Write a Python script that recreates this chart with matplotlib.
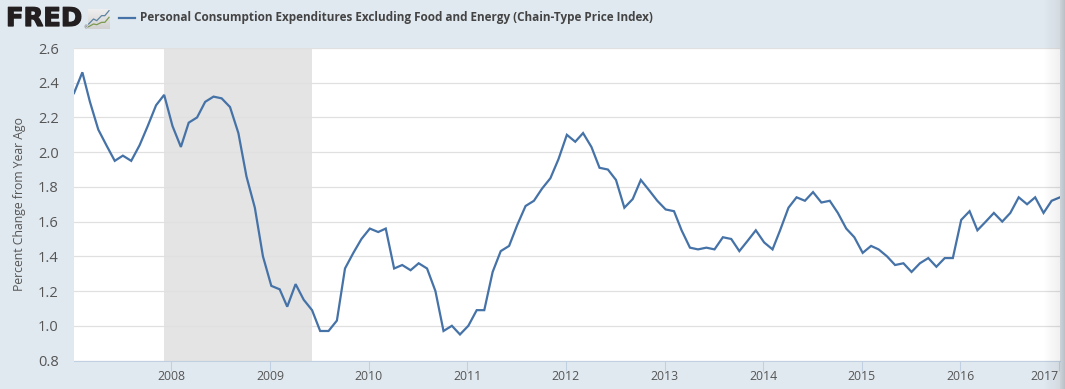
import matplotlib
matplotlib.use("Agg")
import matplotlib.patheffects as pe
import matplotlib.pyplot as plt
import numpy as np
import pandas as pd

pce = [2.34, 2.46, 2.29, 2.13, 2.04, 1.95, 1.98, 1.95, 2.04, 2.15, 2.27, 2.33,
       2.15, 2.03, 2.17, 2.20, 2.29, 2.32, 2.31, 2.26, 2.11, 1.86, 1.68, 1.40,
       1.23, 1.21, 1.11, 1.24, 1.15, 1.09, 0.97, 0.97, 1.03, 1.33, 1.42, 1.50,
       1.56, 1.54, 1.56, 1.33, 1.35, 1.32, 1.36, 1.33, 1.20, 0.97, 1.00, 0.95,
       1.00, 1.09, 1.09, 1.31, 1.43, 1.46, 1.58, 1.69, 1.72, 1.79, 1.85, 1.96,
       2.10, 2.06, 2.11, 2.03, 1.91, 1.90, 1.84, 1.68, 1.73, 1.84, 1.78, 1.72,
       1.67, 1.66, 1.55, 1.45, 1.44, 1.45, 1.44, 1.51, 1.50, 1.43, 1.49, 1.55,
       1.48, 1.44, 1.55, 1.68, 1.74, 1.72, 1.77, 1.71, 1.72, 1.65, 1.56, 1.51,
       1.42, 1.46, 1.44, 1.40, 1.35, 1.36, 1.31, 1.36, 1.39, 1.34, 1.39, 1.39,
       1.61, 1.66, 1.55, 1.60, 1.65, 1.60, 1.65, 1.74, 1.70, 1.74, 1.65, 1.72,
       1.74]
dates = pd.date_range("2007-01-01", periods=len(pce), freq="MS")
years = list(range(2008, 2018))
yticks = [0.8, 1.0, 1.2, 1.4, 1.6, 1.8, 2.0, 2.2, 2.4, 2.6]
rec_start, rec_end = pd.Timestamp("2007-12-01"), pd.Timestamp("2009-06-01")

W, H = 1065, 389
bg = "#e1e9f0"
txt = "#555555"
plt.rcParams["font.family"] = "Open Sans"
fig = plt.figure(figsize=(W / 100, H / 100), dpi=100, facecolor=bg)

ax = fig.add_axes([74 / W, 1 - 360.5 / H, (1060 - 74) / W, (360.5 - 48) / H])
ax.set_facecolor("white")
ax.axvspan(rec_start, rec_end, color="#e4e4e4", lw=0, zorder=1)
ax.plot(dates, pce, color="#4572a7", lw=1.6, zorder=3, solid_joinstyle="miter")

ax.set_xlim(dates[0], dates[-1])
ax.set_ylim(0.8, 2.6)
ax.set_yticks(yticks)
ax.set_yticklabels(["%.1f" % v for v in yticks])
ax.set_xticks([pd.Timestamp("%d-01-01" % y) - pd.Timedelta(days=4) for y in years])
ax.set_xticklabels([str(y) for y in years])
ax.get_xticklabels()[-1].set_ha("right")
ax.grid(axis="y", color="#e0e0e0", lw=0.9, zorder=2)
ax.tick_params(axis="y", length=0, pad=11, labelsize=10.5, labelcolor=txt)
ax.tick_params(axis="x", length=7, width=0.8, color="#c0d0e0", pad=0, labelsize=8.8, labelcolor=txt)
for s in ["top", "right", "left"]:
    ax.spines[s].set_visible(False)
ax.spines["bottom"].set_color("#c0d0e0")
fig.text(19.5 / W, 1 - 204 / H, "Percent Change from Year Ago", fontsize=8.8, color=txt,
         rotation=90, va="center", ha="center")

# header
logo = fig.text(6 / W, 1 - 19 / H, "FRED", fontsize=18.5, fontweight="bold", color="#231f20",
                family="DejaVu Sans", va="center", ha="left")
logo.set_path_effects([pe.withStroke(linewidth=0.9, foreground="#231f20")])
fig.text(83.5 / W, 1 - 27.5 / H, "®", fontsize=3.5, color="#555555", family="DejaVu Sans", va="center", ha="left")

icon_x = [265, 280, 290, 305, 315, 328]
icon_blue = [70, 55, 60, 45, 45, 30]
icon_green = [78, 70, 72, 65, 65, 50]
icon = fig.add_axes([88 / W, 1 - 29 / H, 22 / W, 20 / H])
icon.imshow(np.linspace(0.93, 0.82, 20).reshape(-1, 1), cmap="gray", vmin=0, vmax=1,
            extent=[263, 331, 85, 25], aspect="auto")
icon.plot(icon_x, icon_blue, color="#5b82a3", lw=0.9)
icon.plot(icon_x, icon_green, color="#7c9a4f", lw=0.9)
icon.set_xlim(263, 331)
icon.set_ylim(85, 25)
icon.axis("off")

fig.add_artist(plt.Line2D([119 / W, 135 / W], [1 - 17.5 / H] * 2, color="#4572a7", lw=1.6))
fig.text(140 / W, 1 - 17.5 / H, "Personal Consumption Expenditures Excluding Food and Energy (Chain-Type Price Index)",
         fontsize=8.43, fontweight="bold", color="#444444", va="center", ha="left")

# shadow of the scrollbar on the right edge
shade = np.zeros((1, 23, 4))
shade[0, :18, 3] = np.linspace(0, 0.06, 18)
shade[0, 18:, 3] = np.linspace(0.1, 0.17, 5)
edge = fig.add_axes([1042 / W, 0, 23 / W, 1], zorder=10)
edge.imshow(shade, aspect="auto", interpolation="nearest")
edge.axis("off")

fig.savefig("out.png", dpi=100, facecolor=bg)
